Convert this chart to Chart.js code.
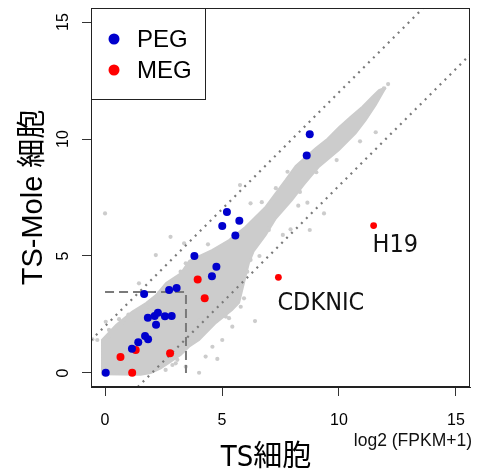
<!DOCTYPE html>
<html><head><meta charset="utf-8">
<script src="https://cdn.jsdelivr.net/npm/chart.js@4.4.1/dist/chart.umd.min.js"></script>
<style>html,body{margin:0;padding:0;background:#fff;}canvas{display:block;}</style>
</head><body>
<canvas id="c" width="479" height="474"></canvas>
<script>
// ---------- text ----------
const xTitle = "TS細胞";
const yTitle = "TS-Mole 細胞";
const unitNote = "log2 (FPKM+1)";
const seriesNames = ["PEG", "MEG"];
const tickValues = [0, 5, 10, 15];
const axisMin = -0.6, axisMax = 15.6;

// ---------- imprinted genes ----------
const pegX = [0.03, 1.15, 1.42, 1.71, 1.84, 2.18, 1.83, 2.12, 2.26, 2.56, 2.85, 1.67, 2.74, 3.06, 3.82, 4.57, 4.76, 5.01, 5.21, 5.57, 5.74, 8.62, 8.75];
const pegY = [0.01, 1.03, 1.31, 1.58, 1.44, 2.06, 2.36, 2.44, 2.57, 2.42, 2.43, 3.38, 3.55, 3.63, 5.00, 4.13, 4.54, 6.28, 6.88, 5.88, 6.51, 9.30, 10.20];
const megX = [0.66, 1.31, 1.16, 2.78, 3.96, 4.26, 7.41, 11.48];
const megY = [0.68, 0.98, 0.01, 0.84, 4.00, 3.19, 4.09, 6.30];
const megNames = ["", "", "", "", "", "", "CDKNIC", "H19"];

// ---------- all other genes: outline of the dense cloud ----------
const cloudUpperX = [-0.15, -0.13, 0.47, 1.15, 1.75, 2.18, 2.61, 3.25, 3.6, 4.59, 5.30, 6.01, 6.44, 6.87, 7.29, 7.72, 8.15, 9.0, 9.5, 10.0, 10.5, 11.0, 11.42, 11.71, 12.0];
const cloudUpperY = [-0.06, 1.41, 2.05, 2.61, 2.99, 3.33, 3.85, 4.27, 4.8, 5.26, 5.68, 6.25, 6.68, 7.11, 7.68, 8.25, 8.85, 9.6, 10.0, 10.5, 10.95, 11.38, 11.81, 12.09, 12.2];
const cloudLowerX = [-0.15, 1.52, 1.95, 2.38, 2.81, 3.23, 3.59, 4.02, 4.74, 5.43, 5.73, 5.95, 6.15, 6.35, 6.87, 7.3, 8.0, 8.5, 9.15, 10.0, 10.71, 11.14, 11.57, 11.85, 12.0];
const cloudLowerY = [-0.06, -0.08, 0.0, 0.2, 0.48, 0.77, 1.12, 1.41, 2.14, 2.69, 3.0, 3.9, 4.7, 5.2, 5.9, 6.6, 7.4, 8.05, 8.82, 9.53, 10.24, 10.81, 11.45, 11.95, 12.2];
// scattered genes outside the dense cloud
const grayX = [0.0, 2.8, 11.57, 10.64, 10.31, 9.72, 9.03, 8.33, 8.26, 8.65, 9.36, 7.93, 8.75, 7.0, 6.22, 6.08, 5.94, 6.41, 5.80, 2.17, 4.02, 4.8, 2.88, 0.03, -0.33, 5.3, 4.02, 5.77, 6.22, 3.38, 11.92, 1.45, 0.46, 0.17, -0.54, 3.02, 3.59, 3.09, 12.1, 11.2, 7.6, 6.6,
  0.17, 0.88, 1.31, 1.81, 2.31, 3.02, 3.23, 3.45, 2.59, 3.45, 4.3, 4.59, 5.01, 5.44, 5.16, 6.7, 7.3, 7.8, 10.9, 9.9, 6.9, 4.4, 0.6, 1.0];
const grayY = [6.82, 5.82, 10.29, 10.35, 9.96, 9.39, 8.58, 7.74, 7.15, 7.28, 6.82, 6.14, 6.11, 6.11, 4.83, 4.33, 3.19, 2.22, 2.83, 5.04, 0.01, 0.6, 0.34, 2.19, 1.41, 2.34, 2.26, 8.03, 7.25, 5.54, 12.17, 3.83, 1.91, 1.84, 1.44, 0.41, 1.41, 0.56, 12.35, 11.0, 5.9, 5.0,
  1.55, 2.12, 2.26, 2.83, 3.41, 3.69, 4.33, 4.69, 0.13, 0.27, 0.7, 1.12, 1.41, 1.98, 2.41, 7.3, 7.9, 8.6, 9.9, 9.1, 6.2, 5.5, 2.3, 2.5];

// ---------- thresholds ----------
const foldOffset = 2;              // dotted lines y = x ± 2
const fpkmCut = Math.log2(10 + 1); // FPKM 10 cut-off

const pts = (xs, ys) => xs.map((x, i) => ({x, y: ys[i]}));
const ARIAL = '"Liberation Sans", Arial, "Noto Sans CJK JP", sans-serif';
const NARROW = '"DejaVu Sans Condensed", "Liberation Sans", "Noto Sans CJK JP", sans-serif';
const GRAY = '#cccccc';
const BLUE = '#0000cd';
const RED = '#ff0000';

const framePlugin = {
  id: 'frame',
  afterDatasetsDraw(chart) {
    const {ctx, chartArea: a} = chart;
    ctx.save();
    ctx.strokeStyle = '#222';
    ctx.lineWidth = 1;
    ctx.strokeRect(a.left + 0.5, a.top + 0.5, a.right - a.left - 1, a.bottom - a.top - 1);
    // legend box
    const lw = 114, lh = 91;
    ctx.fillStyle = '#fff';
    ctx.fillRect(a.left + 0.5, a.top + 0.5, lw, lh);
    ctx.strokeRect(a.left + 0.5, a.top + 0.5, lw, lh);
    const cols = [BLUE, RED];
    ctx.font = '24px ' + ARIAL;
    ctx.textBaseline = 'middle';
    ctx.textAlign = 'left';
    seriesNames.forEach((n, i) => {
      const cy = a.top + 31 + i * 31;
      ctx.fillStyle = cols[i];
      ctx.beginPath(); ctx.arc(a.left + 23, cy, 5.5, 0, Math.PI * 2); ctx.fill();
      ctx.fillStyle = '#000';
      ctx.fillText(n, a.left + 46, cy + 1);
    });
    // gene labels
    const meta = chart.getDatasetMeta(1);
    ctx.font = '25px ' + NARROW;
    ctx.textBaseline = 'alphabetic';
    ctx.fillStyle = '#111';
    const dy = {H19: 26, CDKNIC: 33};
    megNames.forEach((n, i) => {
      if (!n) return;
      const el = meta.data[i];
      ctx.fillText(n, el.x - 1, el.y + dy[n]);
    });
    ctx.restore();
  },
  afterDraw(chart) {
    const {ctx} = chart;
    ctx.save();
    ctx.font = '17.5px ' + ARIAL;
    ctx.fillStyle = '#111';
    ctx.textAlign = 'right';
    ctx.textBaseline = 'alphabetic';
    ctx.fillText(unitNote, 472, 446);
    ctx.restore();
  }
};

const line = (data, dash, width) => ({
  data, showLine: true, pointRadius: 0, borderColor: '#7a7a7a', borderWidth: width,
  borderDash: dash, fill: false, tension: 0
});

new Chart(document.getElementById('c'), {
  type: 'scatter',
  data: {
    datasets: [
      {label: seriesNames[0], data: pts(pegX, pegY), backgroundColor: BLUE, borderColor: BLUE, pointRadius: 4, pointBorderWidth: 0},
      {label: seriesNames[1], data: pts(megX, megY), backgroundColor: RED, borderColor: RED,
       pointRadius: megNames.map(n => n ? 3.4 : 4), pointBorderWidth: 0},
      Object.assign(line([{x: 0, y: fpkmCut}, {x: fpkmCut, y: fpkmCut}, {x: fpkmCut, y: 0}], [9, 5], 2), {label: 'cut'}),
      Object.assign(line([{x: axisMin, y: axisMin + foldOffset}, {x: axisMax - foldOffset, y: axisMax}], [2, 5], 2.2), {label: 'up'}),
      Object.assign(line([{x: axisMin + foldOffset, y: axisMin}, {x: axisMax, y: axisMax - foldOffset}], [2, 5], 2.2), {label: 'down'}),
      {label: 'genes', data: pts(grayX, grayY), backgroundColor: GRAY, borderColor: GRAY, pointRadius: 2.1, pointBorderWidth: 0},
      {label: 'cloudLower', data: pts(cloudLowerX, cloudLowerY), showLine: true, fill: 7, tension: 0,
       backgroundColor: GRAY, borderColor: GRAY, borderWidth: 2, pointRadius: 0},
      {label: 'cloudUpper', data: pts(cloudUpperX, cloudUpperY), showLine: true, fill: false, tension: 0,
       backgroundColor: GRAY, borderColor: GRAY, borderWidth: 2, pointRadius: 0}
    ]
  },
  options: {
    responsive: false,
    animation: false,
    devicePixelRatio: 1,
    layout: {padding: {top: 8, right: 9, left: 0, bottom: 0}},
    plugins: {legend: {display: false}, tooltip: {enabled: false}},
    scales: {
      x: {
        type: 'linear', min: axisMin, max: axisMax,
        afterBuildTicks: s => { s.ticks = tickValues.map(v => ({value: v})); },
        afterFit: s => { s.height = 87; s.paddingLeft = 0; s.paddingRight = 0; },
        ticks: {color: '#000', font: {size: 16, family: ARIAL}, padding: 15},
        grid: {drawOnChartArea: false, drawTicks: true, tickLength: 9, color: '#333'},
        border: {display: true, color: '#222'},
        title: {display: true, text: xTitle + '\u3000', color: '#000',
                font: {size: 29, family: NARROW, lineHeight: 1}, padding: {top: 0, bottom: 1}}
      },
      y: {
        type: 'linear', min: axisMin, max: axisMax,
        afterBuildTicks: s => { s.ticks = tickValues.map(v => ({value: v})); },
        afterFit: s => { s.width = 91; s.paddingTop = 0; s.paddingBottom = 0; },
        ticks: {color: '#000', font: {size: 16, family: ARIAL}, padding: 10, minRotation: 90, maxRotation: 90, crossAlign: 'center'},
        grid: {drawOnChartArea: false, drawTicks: true, tickLength: 9, color: '#333'},
        border: {display: true, color: '#222'},
        title: {display: true, text: yTitle, color: '#000',
                font: {size: 29, family: ARIAL, lineHeight: 1}, padding: {top: 19, bottom: 0}}
      }
    }
  },
  plugins: [framePlugin]
});
</script>
</body></html>
